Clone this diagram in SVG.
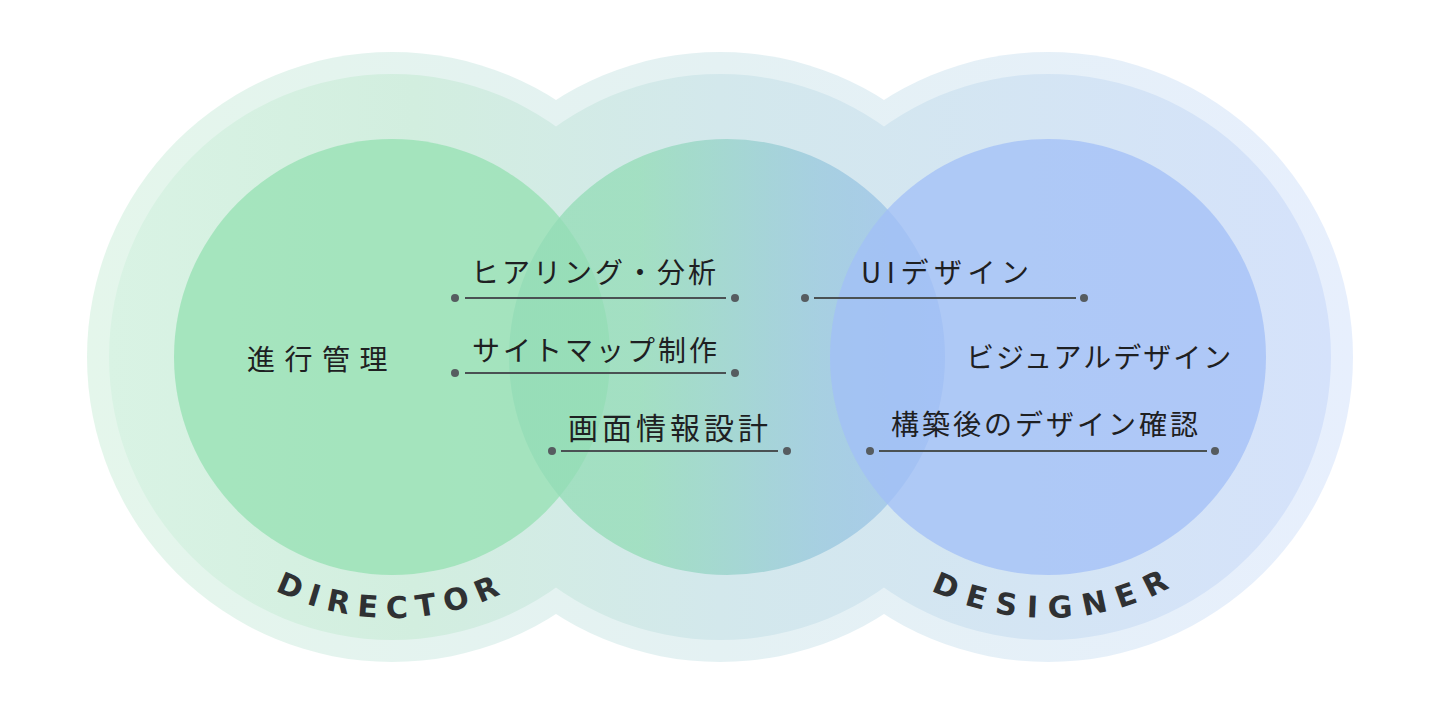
<svg xmlns="http://www.w3.org/2000/svg" width="1440" height="720" viewBox="0 0 1440 720">
  <defs>
    <linearGradient id="gOuter" gradientUnits="userSpaceOnUse" x1="87" y1="0" x2="1353" y2="0">
      <stop offset="0" stop-color="#e4f6eb"/>
      <stop offset="0.5" stop-color="#e4f1f3"/>
      <stop offset="1" stop-color="#e7effd"/>
    </linearGradient>
    <linearGradient id="gRing" gradientUnits="userSpaceOnUse" x1="109" y1="0" x2="1331" y2="0">
      <stop offset="0" stop-color="#d9f3e4"/>
      <stop offset="0.25" stop-color="#d2eedf"/>
      <stop offset="0.5" stop-color="#d3e8ec"/>
      <stop offset="1" stop-color="#d5e2fb"/>
    </linearGradient>
    <linearGradient id="gMid" gradientUnits="userSpaceOnUse" x1="509" y1="0" x2="945" y2="0">
      <stop offset="0" stop-color="#93dcb6"/>
      <stop offset="0.3" stop-color="#93dcb6"/>
      <stop offset="0.7" stop-color="#98c8dc"/>
      <stop offset="1" stop-color="#9cbfee"/>
    </linearGradient>
    <path id="arcL" d="M131,357 A261,261 0 0 0 653,357"/>
    <path id="arcR" d="M787,357 A261,261 0 0 0 1309,357"/>
    <style>
      .lbl { font-family: "Noto Sans CJK JP", "Noto Sans", sans-serif; font-size: 28px; font-weight: 400; fill: #1e2022; letter-spacing: 3px; }
      .role { font-family: "DejaVu Sans", "Liberation Sans", sans-serif; font-size: 30px; font-weight: 700; fill: #2f3133; letter-spacing: 9px; }
      .inner { fill-opacity: 0.75; }
      .ln { stroke: #4a5153; stroke-width: 2; fill: none; }
      .dot { fill: #565c60; }
    </style>
  </defs>

  <g id="halo">
    <g fill="url(#gOuter)">
      <circle cx="392" cy="357" r="305"/>
      <circle cx="720" cy="357" r="305"/>
      <circle cx="1048" cy="357" r="305"/>
    </g>
    <g fill="url(#gRing)">
      <circle cx="392" cy="357" r="283"/>
      <circle cx="720" cy="357" r="283"/>
      <circle cx="1048" cy="357" r="283"/>
    </g>
  </g>

  <g id="director">
    <circle class="inner" cx="392" cy="357" r="218" fill="#94e0b2"/>
    <text class="role" text-anchor="middle"><textPath href="#arcL" startOffset="50%">DIRECTOR</textPath></text>
  </g>
  <g id="shared">
    <circle class="inner" cx="727" cy="357" r="218" fill="url(#gMid)"/>
  </g>
  <g id="designer">
    <circle class="inner" cx="1048" cy="357" r="218" fill="#a1bff7"/>
    <text class="role" text-anchor="middle" style="letter-spacing:11px"><textPath href="#arcR" startOffset="51%">DESIGNER</textPath></text>
  </g>

  <g id="connectors">
    <line class="ln" x1="465" y1="298" x2="726" y2="298"/>
    <circle class="dot" cx="455" cy="298" r="4"/>
    <circle class="dot" cx="735" cy="298" r="4"/>
    <line class="ln" x1="465" y1="373" x2="726" y2="373"/>
    <circle class="dot" cx="455" cy="373" r="4"/>
    <circle class="dot" cx="735" cy="373" r="4"/>
    <line class="ln" x1="561" y1="451" x2="778" y2="451"/>
    <circle class="dot" cx="552" cy="451" r="4"/>
    <circle class="dot" cx="787" cy="451" r="4"/>
    <line class="ln" x1="814" y1="298" x2="1076" y2="298"/>
    <circle class="dot" cx="805" cy="298" r="4"/>
    <circle class="dot" cx="1084" cy="298" r="4"/>
    <line class="ln" x1="879" y1="451" x2="1207" y2="451"/>
    <circle class="dot" cx="870" cy="451" r="4"/>
    <circle class="dot" cx="1215" cy="451" r="4"/>
  </g>

  <g id="item-shinko"><text class="lbl" x="247" y="370" style="letter-spacing:9.5px">進行管理</text></g>
  <g id="item-hearing"><text class="lbl" x="471" y="283">ヒアリング・分析</text></g>
  <g id="item-sitemap"><text class="lbl" x="472" y="361">サイトマップ制作</text></g>
  <g id="item-gamen"><text class="lbl" x="568" y="439" style="font-size:30px;letter-spacing:4px">画面情報設計</text></g>
  <g id="item-ui"><text class="lbl" x="861" y="283" style="letter-spacing:5.5px">UIデザイン</text></g>
  <g id="item-visual"><text class="lbl" x="966" y="368" style="letter-spacing:2px">ビジュアルデザイン</text></g>
  <g id="item-check"><text class="lbl" x="891" y="435">構築後のデザイン確認</text></g>
</svg>
